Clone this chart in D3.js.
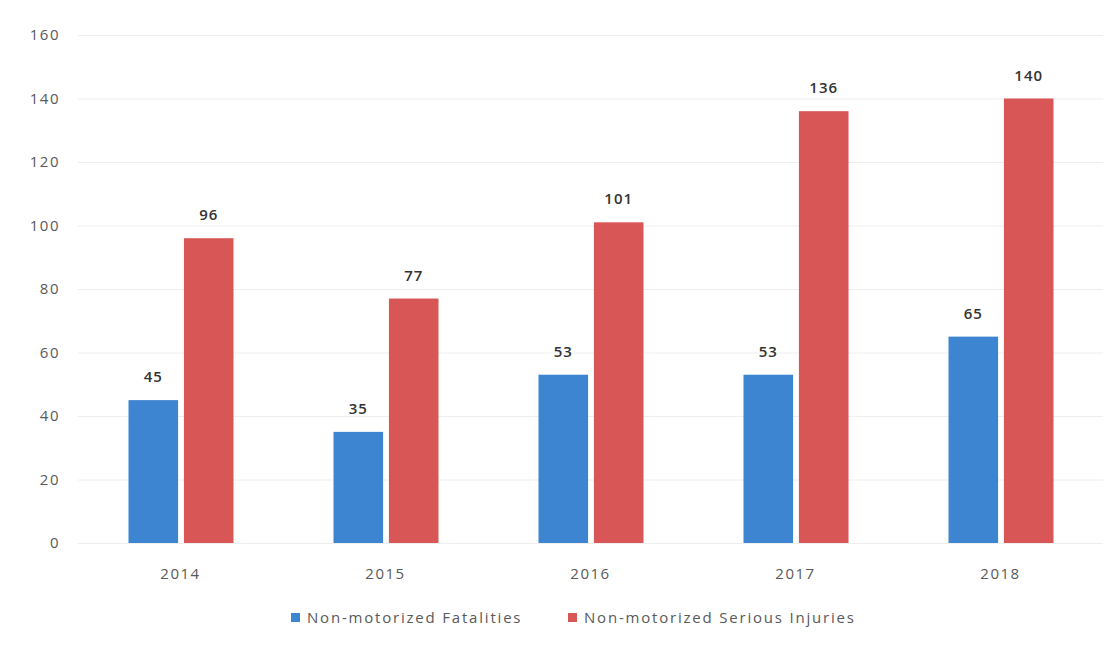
<!DOCTYPE html>
<html>
<head>
<meta charset="utf-8">
<script src="https://cdn.jsdelivr.net/npm/d3@7"></script>
<style>
  body { margin: 0; background: #fff; }
  text { font-family: 'Open Sans', 'DejaVu Sans', sans-serif; }
</style>
</head>
<body>
<div id="chart"></div>
<script>
const years = ['2014', '2015', '2016', '2017', '2018'];
const seriesNames = ['Non-motorized Fatalities', 'Non-motorized Serious Injuries'];
const fatalities = [45, 35, 53, 53, 65];
const seriousInjuries = [96, 77, 101, 136, 140];
const yTicks = [0, 20, 40, 60, 80, 100, 120, 140, 160];

const width = 1120;
const height = 646;
const plotLeft = 78;
const plotRight = 1103;
const plotTop = 35;
const plotBottom = 543;

const blue = '#3d85d1';
const red = '#d85656';
const colors = [blue, red];

const rows = years.map((y, i) => ({ year: y, values: [fatalities[i], seriousInjuries[i]] }));

const svg = d3.select('#chart')
  .append('svg')
  .attr('width', width)
  .attr('height', height);

const x = d3.scaleBand()
  .domain(years)
  .range([plotLeft, plotRight]);

const yScale = d3.scaleLinear()
  .domain([0, 160])
  .range([plotBottom, plotTop]);

// bars sit 47px wide with an 11px gap, inside each 205px band
const inner = d3.scaleBand()
  .domain([0, 1])
  .range([x.bandwidth() / 2 - 52, x.bandwidth() / 2 + 53])
  .paddingInner(0.105);

// gridlines + y labels
const yAxis = d3.axisLeft(yScale)
  .tickValues(yTicks)
  .tickSize(-(plotRight - plotLeft))
  .tickPadding(18);

const yG = svg.append('g')
  .attr('transform', `translate(${plotLeft} 0)`)
  .call(yAxis);
yG.select('.domain').remove();
yG.selectAll('line').attr('stroke', '#eeeeee');
yG.selectAll('text')
  .attr('fill', '#595959')
  .style('font-size', '15px')
  .style('letter-spacing', '1.5px');

// x labels
const xAxis = d3.axisBottom(x).tickSize(0).tickPadding(25);
const xG = svg.append('g')
  .attr('transform', `translate(0 ${plotBottom})`)
  .call(xAxis);
xG.select('.domain').remove();
xG.selectAll('text')
  .attr('fill', '#595959')
  .style('font-size', '15px')
  .style('letter-spacing', '1.5px');

// bars
const groups = svg.append('g')
  .selectAll('g')
  .data(rows)
  .enter()
  .append('g')
  .attr('transform', (d) => `translate(${x(d.year)} 0)`);

groups.selectAll('rect')
  .data((d) => d.values)
  .enter()
  .append('rect')
  .attr('x', (d, i) => inner(i))
  .attr('width', inner.bandwidth())
  .attr('y', (d) => yScale(d))
  .attr('height', (d) => plotBottom - yScale(d))
  .attr('fill', (d, i) => colors[i]);

// value labels
groups.selectAll('.val')
  .data((d) => d.values)
  .enter()
  .append('text')
  .attr('class', 'val')
  .attr('x', (d, i) => inner(i) + inner.bandwidth() / 2)
  .attr('y', (d) => yScale(d) - 18)
  .attr('text-anchor', 'middle')
  .attr('fill', '#333')
  .style('font-size', '15px')
  .style('font-weight', '600')
  .style('letter-spacing', '1px')
  .text((d) => d);

// legend
const legend = svg.append('g')
  .attr('transform', 'translate(291 618)');
const legendX = [0, 277];

seriesNames.forEach((name, i) => {
  legend.append('rect')
    .attr('x', legendX[i])
    .attr('y', -5)
    .attr('width', 9)
    .attr('height', 9)
    .attr('fill', colors[i]);
  legend.append('text')
    .attr('x', legendX[i] + 16)
    .attr('y', 0)
    .attr('dy', '0.35em')
    .attr('fill', '#595959')
    .style('font-size', '15px')
    .style('letter-spacing', '1.8px')
    .text(name);
});
</script>
</body>
</html>
